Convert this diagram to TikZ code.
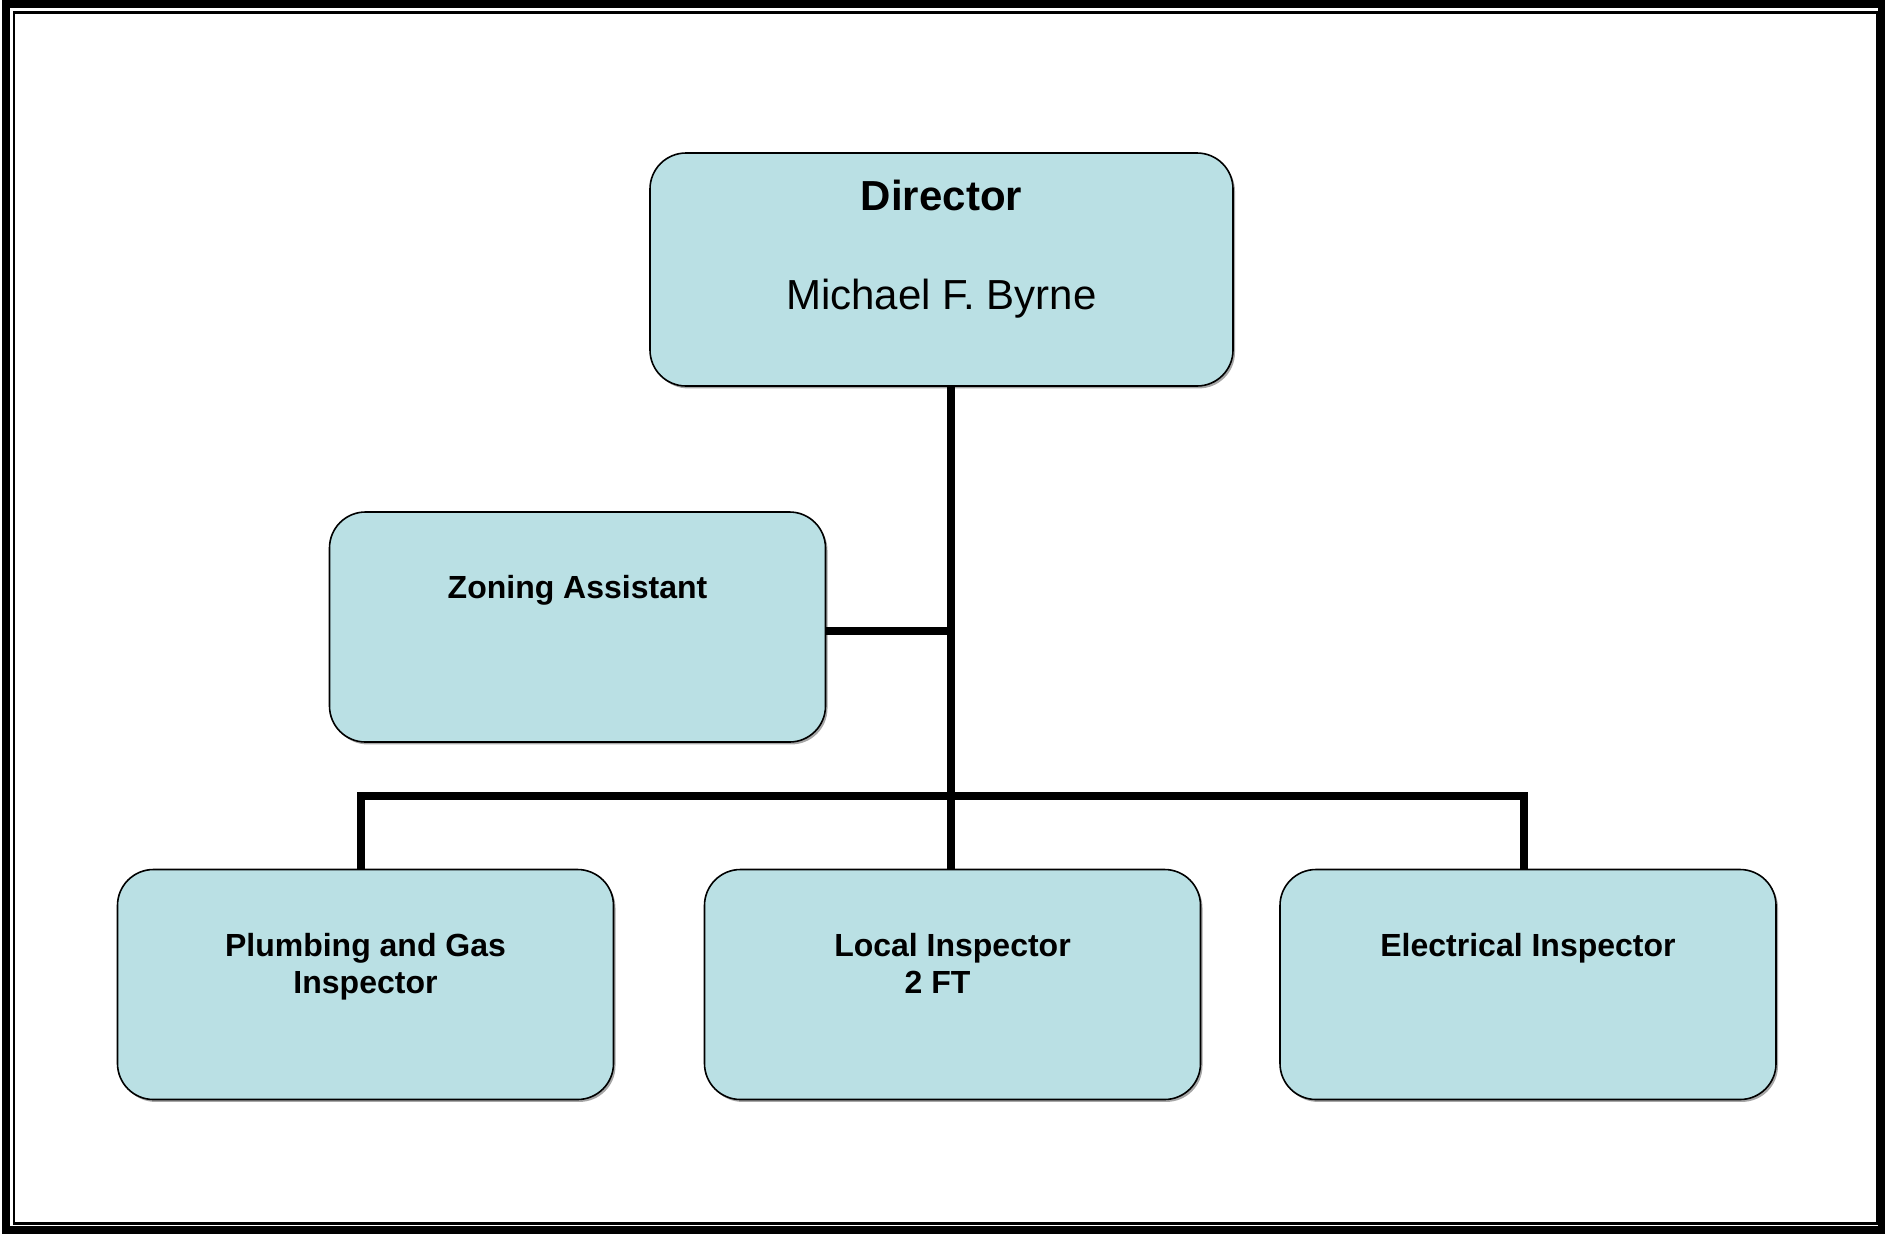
\documentclass[tikz,border=0pt]{standalone}
\usepackage{fontspec}
\setmainfont{Liberation Sans}
\usetikzlibrary{positioning,shadows}
\definecolor{boxblue}{RGB}{186,224,228}
\newcommand{\frameline}[5]{\draw[line width=#5] (#1,#2) rectangle (#3,#4);}

\begin{document}
\begin{tikzpicture}[x=0.5pt,y=-0.5pt,
	post/.style={draw,line width=0.8pt,fill=boxblue,rounded corners=18pt,
		minimum width=248pt,minimum height=115pt,
		drop shadow={shadow xshift=1pt,shadow yshift=-1.2pt,fill=black,opacity=0.35}},
	wire/.style={line width=3.8pt,line join=miter},
	head/.style={anchor=base,inner sep=0pt,font=\fontsize{21}{25}\selectfont\bfseries},
	who/.style={anchor=base,inner sep=0pt,font=\fontsize{21}{25}\selectfont},
	role/.style={anchor=base,inner sep=0pt,align=center,font=\fontsize{16}{18.5}\selectfont\bfseries}]
			\useasboundingbox (0,0) rectangle (1885,1233);
			% double frame
			\frameline{6}{4}{1882}{1229.5}{4pt}
			\frameline{14}{12.5}{1877.5}{1223.5}{1.3pt}
			% boxes
			\node[post,minimum width=291.5pt,minimum height=116.5pt] (dir) at (941.5,269.5) {};
			\node[post] (zon) at (577.5,627) {};
			\node[post] (plg) at (365.5,984.5) {};
			\node[post] (loc) at (952.5,984.5) {};
			\node[post] (ele) at (1528,984.5) {};
			% texts
			\node[head] (dirtitle) at ([yshift=-29pt]dir.north) {Director};
			\node[who] (dirname) at ([yshift=-78.5pt]dir.north) {Michael F. Byrne};
			\node[role] (zontext) at ([yshift=-43.5pt]zon.north) {Zoning Assistant};
			\node[role] (plgtext) at ([yshift=-62.5pt]plg.north) {Plumbing and Gas\\Inspector};
			\node[role] (loctext) at ([yshift=-62.5pt]loc.north) {Local Inspector\\2 FT\hspace*{15pt}};
			\node[role] (eletext) at ([yshift=-44pt]ele.north) {Electrical Inspector};
			% connectors
			\coordinate (bus) at (951,796);
			\coordinate (busw) at (361,796);
			\coordinate (buse) at (1524,796);
			\draw[wire] (bus |- dir.south) -- (bus |- loc.north);
			\draw[wire] ([yshift=-2pt]zon.east) -- ([yshift=-2pt]zon.east -| bus);
			\draw[wire] (busw |- plg.north) -- (busw) -- (buse) -- (buse |- ele.north);
		\end{tikzpicture}
\end{document}
